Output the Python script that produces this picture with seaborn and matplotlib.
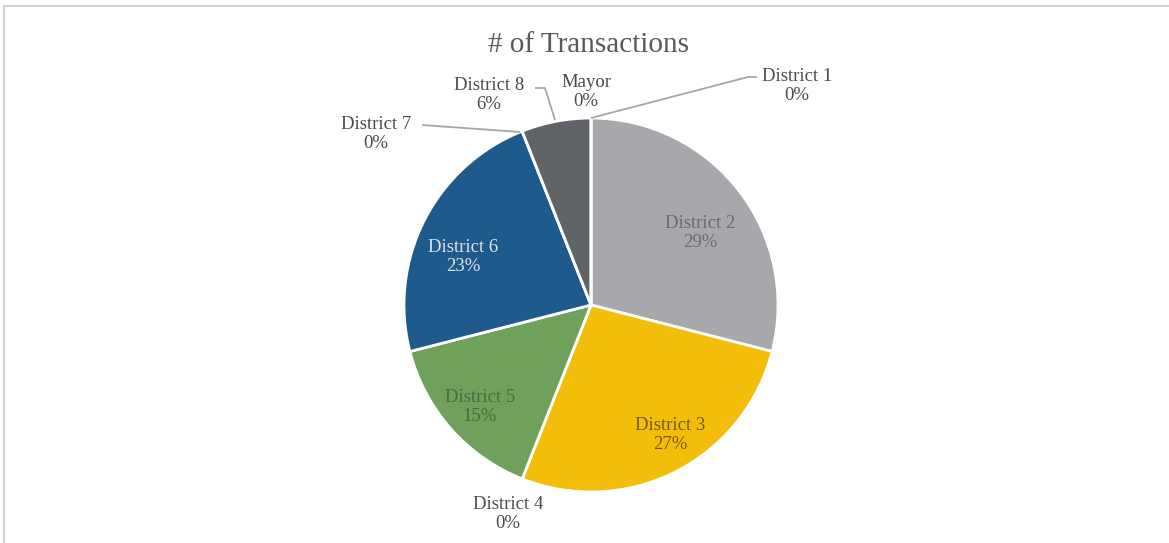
import numpy as np
import matplotlib
matplotlib.use("Agg")
import matplotlib.pyplot as plt
import seaborn as sns

# データ（時計回り、12時の位置から）
categories = ["District 1", "District 2", "District 3", "District 4", "District 5",
              "District 6", "District 7", "District 8", "Mayor"]
shares = [0, 29, 27, 0, 15, 23, 0, 6, 0]
colors = ["#ED7D31", "#A8A8AC", "#F2BE0A", "#5B9BD5", "#6FA05C",
          "#1F5A8C", "#9E480E", "#606468", "#997300"]
label_colors = ["#4A4A4A", "#6A6A6E", "#735808", "#4A4A4A", "#4A6A40",
                "#DCE3EC", "#4A4A4A", "#4A4A4A", "#4A4A4A"]

W, H = 1169, 543
cx, cy, r = 591, H - 305, 187

# ラベル位置（ピクセル座標、上から）
label_pos = [(797, 86), (700, 233), (670, 435), (508, 514), (480, 407),
             (463, 257), (376, 134), (489, 95), (586, 92)]
# 引き出し線（ゼロ・小さい扇形）
leaders = {
    "District 1": [(591, 118), (748, 77), (757, 77)],
    "District 8": [(555, 120), (545, 88), (535, 88)],
    "District 7": [(520, 132), (422, 125)],
}

sns.set_theme(style="white")
plt.rcParams['font.family'] = ['Liberation Serif', 'DejaVu Serif']

fig = plt.figure(figsize=(W / 100, H / 100), dpi=100)
ax = fig.add_axes([0, 0, 1, 1])

wedges, _ = ax.pie(shares, colors=colors, startangle=90, counterclock=False,
                   center=(cx, cy), radius=r,
                   wedgeprops=dict(edgecolor="white", linewidth=2))
ax.set_xlim(0, W)
ax.set_ylim(0, H)
ax.set_aspect("equal")
ax.axis("off")

for name, pts in leaders.items():
    xs = [p[0] for p in pts]
    ys = [H - p[1] for p in pts]
    ax.plot(xs, ys, color="#A6A6A6", lw=1.3, solid_capstyle="butt")

for name, val, (px, py), c in zip(categories, shares, label_pos, label_colors):
    ax.text(px, H - py, f"{name}\n{val}%", ha="center", va="center",
            fontsize=13.5, color=c, linespacing=1.15)

ax.text(589, H - 45, "# of Transactions", ha="center", va="center",
        fontsize=21, color="#595959")

# 枠線（上と左のみ見える）
ax.plot([4, 4, W], [0, H - 6, H - 6], color="#D0D0D0", lw=1.5)

fig.savefig("out.png", dpi=100)
